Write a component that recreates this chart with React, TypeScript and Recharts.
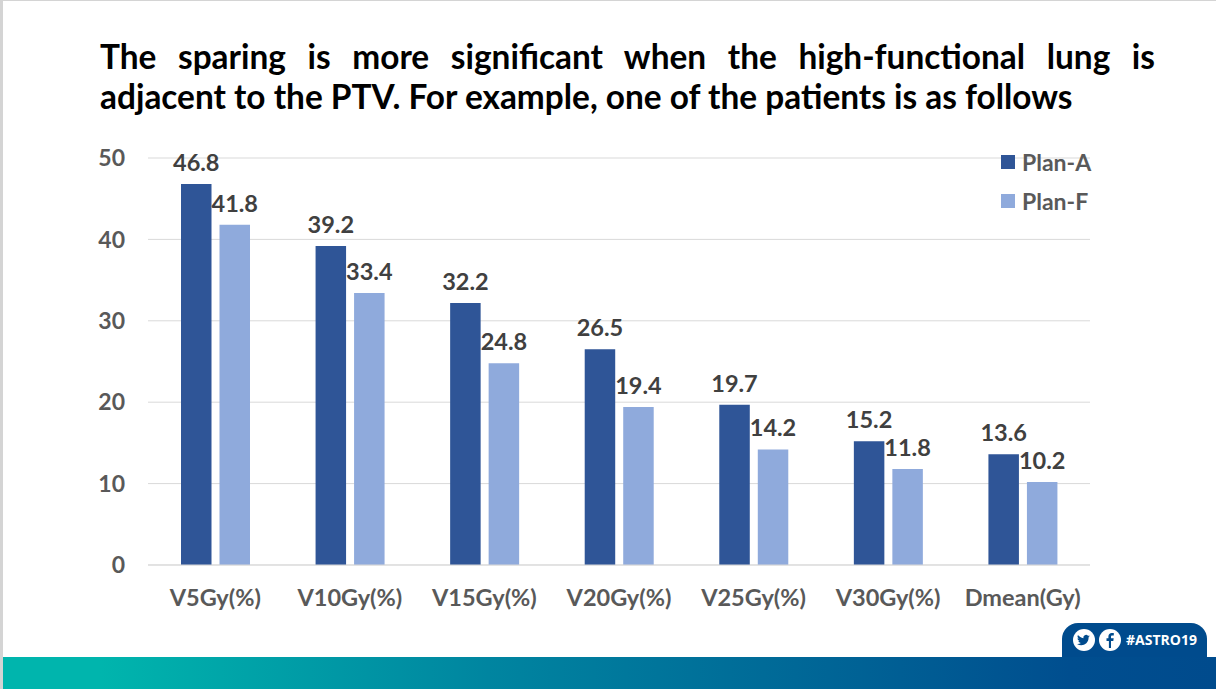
// App.tsx
import { BarChart, Bar, XAxis, YAxis, CartesianGrid, Legend, LabelList } from "recharts"

const categories = ["V5Gy(%)", "V10Gy(%)", "V15Gy(%)", "V20Gy(%)", "V25Gy(%)", "V30Gy(%)", "Dmean(Gy)"]
const planA = [46.8, 39.2, 32.2, 26.5, 19.7, 15.2, 13.6]
const planF = [41.8, 33.4, 24.8, 19.4, 14.2, 11.8, 10.2]
const yTicks = [0, 10, 20, 30, 40, 50]

const titleLine1 = "The sparing is more significant when the high-functional lung is"
const titleLine2 = "adjacent to the PTV. For example, one of the patients is as follows"

const data = categories.map((name, i) => ({ name, planA: planA[i], planF: planF[i] }))

const FONT = "Lato, Carlito, sans-serif"
const DARK = "#2f5597"
const LIGHT = "#8faadc"

function PlanLegend({ payload }: any) {
  // altura 0 para que la leyenda no le quite espacio al grafico
  return (
    <div style={{ height: 0, overflow: "visible" }}>
      {(payload || []).map((p: any) => (
        <div key={p.value} style={{ display: "flex", alignItems: "center", height: 39 }}>
          <span style={{ width: 14, height: 14, background: p.color, marginRight: 7 }} />
          <span style={{ fontSize: 23, fontWeight: 700, color: "#595959" }}>{p.value}</span>
        </div>
      ))}
    </div>
  )
}

export default function App() {
  return (
    <div style={{ position: "absolute", left: 0, top: 0, width: 1216, height: 689, background: "#fff", overflow: "hidden", fontFamily: FONT }}>
      {/* marco de la diapositiva */}
      <div style={{ position: "absolute", left: 0, top: 0, width: 3, height: 689, background: "#d4d4d4" }} />
      <div style={{ position: "absolute", left: 0, top: 0, width: 1216, height: 1, background: "#d4d4d4" }} />

      {/* titulo */}
      <div style={{ position: "absolute", left: 100, top: 36, width: 1055, fontSize: 33.4, fontWeight: 700, color: "#000", lineHeight: "40px" }}>
        <div style={{ textAlign: "justify", textAlignLast: "justify" }}>{titleLine1}</div>
        <div style={{ whiteSpace: "nowrap" }}>{titleLine2}</div>
      </div>

      <div style={{ position: "absolute", left: 0, top: 0 }}>
        <BarChart
          width={1216}
          height={689}
          data={data}
          barSize={30.5}
          barGap={8}
          margin={{ top: 158, right: 126, bottom: 72, left: 0 }}
        >
          <CartesianGrid vertical={false} stroke="#d9d9d9" />
          <XAxis
            dataKey="name"
            axisLine={{ stroke: "#d9d9d9" }}
            tickLine={false}
            interval={0}
            height={52}
            tickMargin={18}
            tick={{ fontSize: 23.5, fontWeight: 700, fill: "#595959", fontFamily: FONT }}
          />
          <YAxis
            width={148}
            domain={[0, 50]}
            ticks={yTicks}
            axisLine={false}
            tickLine={false}
            tickMargin={17}
            tick={{ fontSize: 23, fontWeight: 700, fill: "#595959", fontFamily: FONT }}
          />
          <Legend
            layout="vertical"
            content={<PlanLegend />}
            wrapperStyle={{ position: "absolute", left: 1001, top: 142, width: 120, bottom: "auto" }}
          />
          <Bar dataKey="planA" name="Plan-A" fill={DARK} isAnimationActive={false}>
            <LabelList dataKey="planA" position="top" offset={13} style={{ fontSize: 23.5, fontWeight: 700, fill: "#404040", fontFamily: FONT }} />
          </Bar>
          <Bar dataKey="planF" name="Plan-F" fill={LIGHT} isAnimationActive={false}>
            <LabelList dataKey="planF" position="top" offset={13} style={{ fontSize: 23.5, fontWeight: 700, fill: "#404040", fontFamily: FONT }} />
          </Bar>
        </BarChart>
      </div>

      {/* pie de la diapositiva */}
      <div style={{ position: "absolute", left: 3, top: 657, width: 1213, height: 32, background: "linear-gradient(90deg, #00b5ad 0%, #00b5ad 8%, #0085a0 40%, #004e8f 88%, #004b8d 100%)" }} />
      <div style={{ position: "absolute", left: 1062, top: 623, width: 145, height: 34, background: "#004b8d", borderRadius: "16px 16px 0 0" }}>
        <svg width={22} height={22} style={{ position: "absolute", left: 11, top: 6 }} viewBox="0 0 22 22">
          <circle cx={11} cy={11} r={11} fill="#fff" />
          <path d="M17 7.2c-.5.2-1 .4-1.500.4.500-.3 1-.8 1.200-1.400-.5.3-1.100.5-1.700.6a2.700 2.700 0 0 0-4.600 2.500C8.200 8.700 6.200 7.600 4.900 6a2.700 2.700 0 0 0 .8 3.600c-.4 0-.8-.1-1.200-.3 0 1.300.9 2.400 2.100 2.700-.4.100-.8.100-1.200 0 .3 1.100 1.300 1.800 2.500 1.900A5.400 5.400 0 0 1 4 15c4.800 3 11.600.5 11.600-6.400v-.3c.6-.3 1-.7 1.400-1.100z" fill="#004b8d" />
        </svg>
        <svg width={22} height={22} style={{ position: "absolute", left: 37, top: 6 }} viewBox="0 0 22 22">
          <circle cx={11} cy={11} r={11} fill="#fff" />
          <path d="M12 19v-7h2.300l.4-2.700H12V7.700c0-.8.300-1.300 1.400-1.300h1.400V4c-.3 0-1.100-.1-2-.1-2 0-3.400 1.200-3.400 3.500v1.900H7.500V12h2.400v7z" fill="#004b8d" />
        </svg>
        <span style={{ position: "absolute", left: 64, top: 7, fontSize: 14, fontWeight: 700, color: "#fff", fontFamily: "'Open Sans', sans-serif", lineHeight: "20px" }}>#ASTRO19</span>
      </div>
    </div>
  )
}
